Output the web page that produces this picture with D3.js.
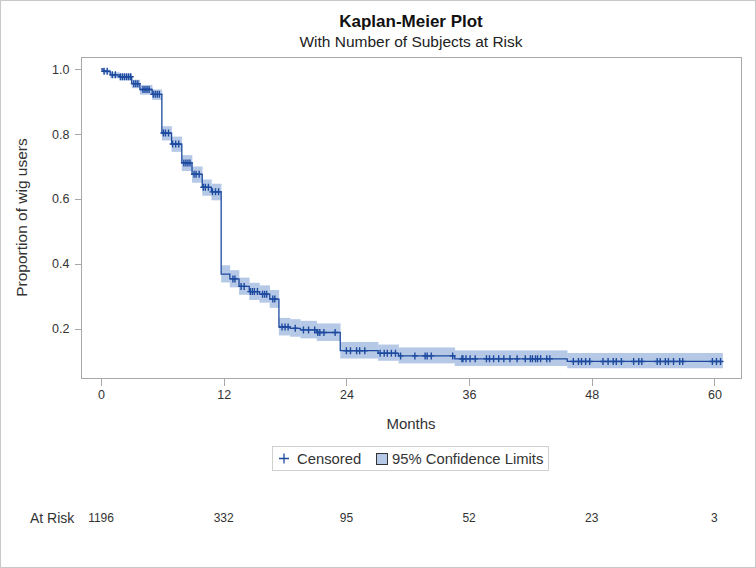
<!DOCTYPE html>
<html lang="en">
<head>
  <meta charset="utf-8">
  <title>Kaplan-Meier Plot</title>
  <script src="https://cdn.jsdelivr.net/npm/d3@7"></script>
  <style>
    body { margin: 0; background: white; }
    svg text { font-family: "Liberation Sans", Arial, sans-serif; fill: #333; }
    .axis path, .axis line { stroke: #a8a8a8; shape-rendering: crispEdges; }
    .axis text { font-size: 12.5px; fill: #333; }
  </style>
</head>
<body>
<div id="chart"></div>
<script>
  // step function: event times and survival estimate after each
  var stepTimes = [0, 0.2, 0.9, 1.8, 3.0, 3.8, 5.0, 5.95, 6.9, 7.9, 8.9, 9.9, 10.8, 11.75,
    12.6, 13.5, 14.5, 15.5, 16.5, 17.4, 18.5, 19.5, 21.1, 23.4, 27.1, 29.1, 34.6, 45.6];
  var survival = [1.0, 0.993, 0.982, 0.976, 0.955, 0.937, 0.922, 0.803, 0.769, 0.711, 0.676, 0.636, 0.622, 0.369,
    0.354, 0.331, 0.315, 0.307, 0.292, 0.206, 0.202, 0.197, 0.189, 0.133, 0.125, 0.117, 0.108, 0.100];
  var lowerCL = [1.0, 0.986, 0.972, 0.965, 0.941, 0.921, 0.905, 0.780, 0.745, 0.686, 0.650, 0.610, 0.596, 0.343,
    0.328, 0.305, 0.289, 0.281, 0.265, 0.180, 0.176, 0.171, 0.163, 0.109, 0.102, 0.094, 0.086, 0.079];
  var upperCL = [1.0, 0.998, 0.990, 0.985, 0.967, 0.951, 0.937, 0.824, 0.792, 0.735, 0.700, 0.660, 0.647, 0.396,
    0.381, 0.358, 0.342, 0.334, 0.320, 0.234, 0.230, 0.225, 0.217, 0.160, 0.152, 0.143, 0.134, 0.126];
  var lastTime = 60.8;

  var censoredTimes = [0.3, 0.6, 1.1, 1.4, 1.9, 2.1, 2.3, 2.5, 2.7, 2.9, 3.2, 3.4, 3.6, 4.1, 4.3, 4.5, 4.7,
    5.1, 5.3, 5.5, 5.7, 6.1, 6.3, 6.6, 7.0, 7.3, 7.6, 8.1, 8.3, 8.5, 8.7, 9.1, 9.3, 9.6, 10.0, 10.2, 10.5,
    10.9, 11.2, 11.5, 12.9, 13.1, 13.7, 14.0, 14.6, 14.8, 15.0, 15.3, 15.8, 16.0, 16.2, 16.8, 17.0,
    17.7, 18.0, 18.3, 19.0, 19.8, 20.3, 20.9, 21.2, 21.4, 21.8, 22.9,
    24.0, 24.4, 25.0, 25.3, 25.8, 27.3, 27.7, 28.0, 28.4, 28.8, 29.3, 30.7, 31.7, 31.9, 32.3, 34.4,
    35.3, 35.4, 35.7, 36.1, 36.6, 37.7, 38.0, 38.4, 38.9, 39.4, 40.0, 40.7, 41.5, 42.0, 42.2, 42.5,
    42.7, 43.0, 43.6, 43.9, 46.2, 46.7, 47.0, 47.4, 47.8, 49.1, 49.6, 50.1, 50.4, 50.9, 52.1, 52.6,
    52.9, 54.4, 54.7, 55.2, 55.5, 56.0, 56.6, 56.9, 59.8, 60.2, 60.6];

  var xTicks = [0, 12, 24, 36, 48, 60];
  var yTicks = [0.2, 0.4, 0.6, 0.8, 1.0];
  var atRisk = [1196, 332, 95, 52, 23, 3];

  var lineColor = '#1d4a9f', bandColor = '#b5c9e7';
  var width = 756, height = 568;
  var frame = { left: 81, right: 741, top: 57, bottom: 378 };

  var x = d3.scaleLinear().domain([-1.96, 62.6]).range([frame.left, frame.right]);
  var y = d3.scaleLinear().domain([0.049, 1.037]).range([frame.bottom, frame.top]);

  var svg = d3.select('#chart').append('svg')
    .attr('width', width).attr('height', height);

  svg.append('rect')
    .attr('x', 0.5).attr('y', 0.5).attr('width', width - 1).attr('height', height - 1)
    .attr('fill', 'white').attr('stroke', '#c8c8c8');

  // title
  svg.append('text').attr('x', 411).attr('y', 27).attr('text-anchor', 'middle')
    .style('font-size', '17px').style('font-weight', 'bold').style('fill', '#111')
    .text('Kaplan-Meier Plot');
  svg.append('text').attr('x', 411).attr('y', 47).attr('text-anchor', 'middle')
    .style('font-size', '15.5px').style('fill', '#222')
    .text('With Number of Subjects at Risk');

  // step data with end time
  var steps = stepTimes.map(function (t, i) {
    return { t0: t, t1: i < stepTimes.length - 1 ? stepTimes[i + 1] : lastTime,
      s: survival[i], lo: lowerCL[i], hi: upperCL[i] };
  });

  var plot = svg.append('g');

  plot.selectAll('rect.band')
    .data(steps)
    .enter().append('rect')
    .attr('class', 'band')
    .attr('x', d => x(d.t0))
    .attr('width', d => x(d.t1) - x(d.t0) + 0.3)
    .attr('y', d => y(d.hi))
    .attr('height', d => y(d.lo) - y(d.hi))
    .attr('fill', bandColor);

  var line = d3.line().curve(d3.curveStepAfter).x(d => x(d[0])).y(d => y(d[1]));
  var pts = stepTimes.map((t, i) => [t, survival[i]]);
  pts.push([censoredTimes[censoredTimes.length - 1] + 0.1, survival[survival.length - 1]]);
  plot.append('path')
    .attr('d', line(pts))
    .attr('fill', 'none')
    .attr('stroke', lineColor)
    .attr('stroke-width', 1.3);

  function survAt(t) {
    var i = d3.bisectRight(stepTimes, t) - 1;
    return survival[Math.max(i, 0)];
  }

  plot.selectAll('path.cens')
    .data(censoredTimes)
    .enter().append('path')
    .attr('class', 'cens')
    .attr('d', function (t) {
      var cx = x(t), cy = y(survAt(t));
      return 'M' + (cx - 3) + ',' + cy + 'H' + (cx + 3) + 'M' + cx + ',' + (cy - 3.5) + 'V' + (cy + 3.5);
    })
    .attr('stroke', lineColor)
    .attr('stroke-width', 1.4)
    .attr('fill', 'none');

  // frame
  svg.append('rect')
    .attr('x', frame.left + 0.5).attr('y', frame.top + 0.5)
    .attr('width', frame.right - frame.left).attr('height', frame.bottom - frame.top)
    .attr('fill', 'none').attr('stroke', '#a8a8a8');

  var xAxis = svg.append('g').attr('class', 'axis')
    .attr('transform', 'translate(0,' + (frame.bottom + 0.5) + ')')
    .call(d3.axisBottom(x).tickValues(xTicks).tickSize(7).tickPadding(5));
  xAxis.select('.domain').remove();

  var yAxis = svg.append('g').attr('class', 'axis')
    .attr('transform', 'translate(' + (frame.left + 0.5) + ',0)')
    .call(d3.axisLeft(y).tickValues(yTicks).tickFormat(d3.format('.1f')).tickSize(7).tickPadding(5));
  yAxis.select('.domain').remove();

  svg.append('text').attr('x', 411).attr('y', 429).attr('text-anchor', 'middle')
    .style('font-size', '15px').text('Months');
  svg.append('text')
    .attr('transform', 'translate(27,' + ((frame.top + frame.bottom) / 2) + ') rotate(-90)')
    .attr('text-anchor', 'middle').style('font-size', '15.5px')
    .text('Proportion of wig users');

  // legend
  var lg = svg.append('g').attr('transform', 'translate(272,446)');
  lg.append('rect').attr('x', 0.5).attr('y', 0.5).attr('width', 276).attr('height', 24)
    .attr('fill', 'white').attr('stroke', '#d0d0d0');
  lg.append('path').attr('d', 'M7,12.5H17M12,7.5V17.5')
    .attr('stroke', lineColor).attr('stroke-width', 1.3);
  lg.append('text').attr('x', 25).attr('y', 17.5).style('font-size', '14.8px').text('Censored');
  lg.append('rect').attr('x', 104.5).attr('y', 7.5).attr('width', 11).attr('height', 11)
    .attr('fill', bandColor).attr('stroke', '#333');
  lg.append('text').attr('x', 120).attr('y', 17.5).style('font-size', '14.8px').text('95% Confidence Limits');

  // at risk row
  svg.append('text').attr('x', 30).attr('y', 523).style('font-size', '14px').text('At Risk');
  svg.selectAll('text.risk')
    .data(atRisk)
    .enter().append('text')
    .attr('class', 'risk')
    .attr('x', (d, i) => x(xTicks[i]))
    .attr('y', 522)
    .attr('text-anchor', 'middle')
    .style('font-size', '12px')
    .text(d => d);
</script>
</body>
</html>
